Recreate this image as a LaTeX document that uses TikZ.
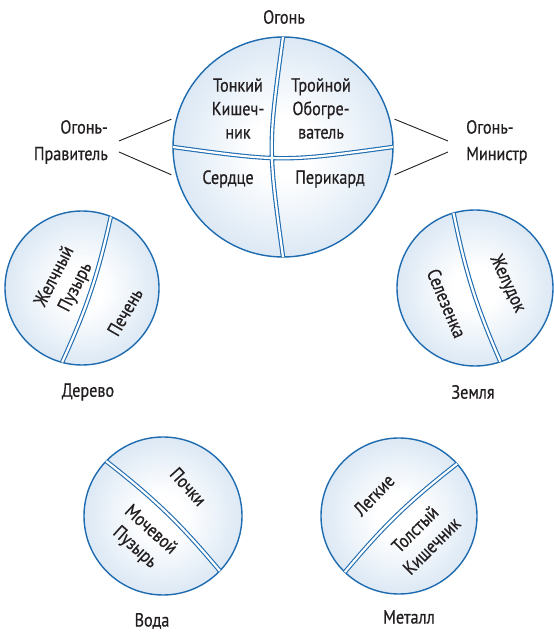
\documentclass[tikz,border=0pt]{standalone}
\usepackage{fontspec}
\setmainfont{PT Sans}[FakeStretch=0.85, FakeBold=0.6]
\usetikzlibrary{calc}

\definecolor{orbline}{HTML}{1E6BB0}
\definecolor{orbedge}{HTML}{D3E3F2}
\definecolor{orbrim}{HTML}{C4D9EC}
\definecolor{orbband}{HTML}{BCD3EA}
\definecolor{orbmid}{HTML}{DAE7F4}
\definecolor{inktext}{HTML}{231F20}

\pgfdeclareradialshading{orbshade}{\pgfpoint{0bp}{0bp}}{%
  color(0bp)=(white); color(7bp)=(white); color(26bp)=(orbmid);
  color(40bp)=(orbband); color(46bp)=(orbrim); color(50bp)=(orbedge)}

\tikzset{
  orb/.style={circle, draw=orbline, line width=1.4pt, shade, shading=orbshade, inner sep=0pt, outer sep=0pt},
  divider/.style={draw=orbline, double=white, line width=1.1pt, double distance=2.2pt},
  lbl/.style={text=inktext, font=\fontsize{19}{23.5}\selectfont, align=center, inner sep=0pt},
  spoke/.style={draw=inktext, line width=0.9pt}
}

\begin{document}
\begin{tikzpicture}[x=1pt,y=1pt]
  \useasboundingbox (0,0) rectangle (554,632);

  % fire
  \node[orb, minimum size=220pt] (fire) at (283,485) {};
  \draw[divider] (fire.180) .. controls (283,470) .. (fire.0)
    (fire.90) .. controls (268,485) .. (fire.270);
  \node[lbl] (small) at (238,523.5) {Тонкий\\Кишеч-\\ник};
  \node[lbl] (triple) at (321,523.5) {Тройной\\Обогре-\\ватель};
  \node[lbl] (heart) at (228,453) {Сердце};
  \node[lbl] (pericard) at (330,453) {Перикард};
  \node[lbl] (firelbl) at (284,615) {Огонь};
  \node[lbl, align=right, anchor=east, font=\fontsize{19}{26.5}\selectfont] (ruler) at (108,490) {Огонь-\\Правитель};
  \node[lbl, align=left, anchor=west, font=\fontsize{19}{26.5}\selectfont] (minister) at (466,490) {Огонь-\\Министр};
  \coordinate (rulerA) at (119,491);
  \coordinate (rulerB) at (119,480);
  \coordinate (ministerA) at (448,491);
  \coordinate (ministerB) at (448,480);
  \coordinate (fireNW) at ($(fire)+(166:115)$);
  \coordinate (fireSW) at ($(fire)+(194:115)$);
  \coordinate (fireNE) at ($(fire)+(14:115)$);
  \coordinate (fireSE) at ($(fire)+(-14:115)$);
  \draw[spoke] (rulerA) -- (fireNW);
  \draw[spoke] (rulerB) -- (fireSW);
  \draw[spoke] (ministerA) -- (fireNE);
  \draw[spoke] (ministerB) -- (fireSE);

  % wood
  \node[orb, minimum size=154pt] (wood) at (82,344) {};
  \draw[divider] (wood.68) to[bend left=6] (wood.255);
  \node[lbl, rotate=63] (gall) at (65.5,350) {Желчный\\Пузырь};
  \node[lbl, rotate=60] (liver) at (125,320) {Печень};
  \node[lbl] (woodlbl) at (88,240) {Дерево};

  % earth
  \node[orb, minimum size=156pt] (earth) at (475,344) {};
  \draw[divider] (earth.106) to[bend right=6] (earth.289);
  \node[lbl, rotate=-67] (spleen) at (446.7,328.7) {Селезенка};
  \node[lbl, rotate=-65] (stomach) at (507.3,348) {Желудок};
  \node[lbl] (earthlbl) at (473,240) {Земля};

  % water
  \node[orb, minimum size=158pt] (water) at (163,116) {};
  \draw[divider] (water.136) to[bend left=6] (water.316);
  \node[lbl, rotate=-48] (kidney) at (188.3,145.3) {Почки};
  \node[lbl, rotate=-42] (bladder) at (142.5,93) {Мочевой\\Пузырь};
  \node[lbl] (waterlbl) at (152,11) {Вода};

  % metal
  \node[orb, minimum size=156pt] (metal) at (399,116) {};
  \draw[divider] (metal.42) to[bend right=6] (metal.226);
  \node[lbl, rotate=46] (lung) at (374,137) {Легкие};
  \node[lbl, rotate=45] (colon) at (423.3,94.5) {Толстый\\Кишечник};
  \node[lbl] (metallbl) at (409,15) {Металл};
\end{tikzpicture}
\end{document}
